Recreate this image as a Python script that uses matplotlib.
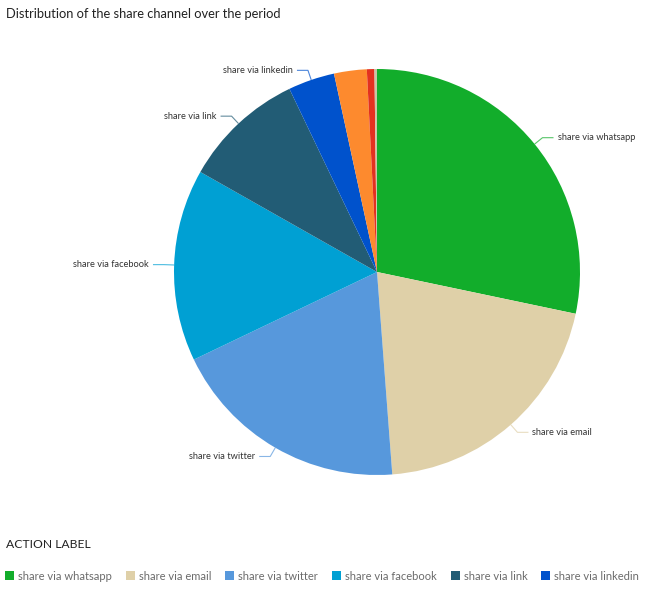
import numpy as np
import matplotlib.pyplot as plt
from matplotlib.patches import Patch

plt.rcParams["font.family"] = ["Lato", "DejaVu Sans"]

# share of each channel over the period (percent)
channels = [
    "share via whatsapp",
    "share via email",
    "share via twitter",
    "share via facebook",
    "share via link",
    "share via linkedin",
    "other 1",
    "other 2",
    "other 3",
]
shares = [28.3, 20.5, 19.1, 15.3, 9.7, 3.7, 2.6, 0.6, 0.2]
labelled = 6  # only the first six channels get a label and legend entry
colors = [
    "#12ad2b", "#dfd0a8", "#5798dc", "#00a0d3", "#225c75",
    "#0052cc", "#fd8a2e", "#e3311f", "#c9c4a6",
]

W, H = 662, 592
fig = plt.figure(figsize=(W / 100, H / 100), dpi=100)

cx, cy, r = 377, 272, 203
ax = fig.add_axes([(cx - r) / W, (H - cy - r) / H, 2 * r / W, 2 * r / H])
wedges, _ = ax.pie(shares, colors=colors, startangle=90, counterclock=False,
                   radius=1.0, wedgeprops=dict(linewidth=0))
ax.set_xlim(-1, 1)
ax.set_ylim(-1, 1)
ax.set_aspect("equal")
ax.axis("off")

px = 1.0 / r  # one pixel in data units
for w, name in zip(wedges[:labelled], channels[:labelled]):
    mid = np.deg2rad((w.theta1 + w.theta2) / 2)
    x0, y0 = np.cos(mid), np.sin(mid)
    x1, y1 = 1.05 * x0, 1.05 * y0
    side = 1 if x0 >= 0 else -1
    x2 = x1 + side * 11 * px
    ax.plot([x0, x1, x2], [y0, y1, y1], color=w.get_facecolor(), lw=0.8,
            alpha=0.7, clip_on=False, solid_capstyle="butt")
    ax.text(x2 + side * 4 * px, y1, name, fontsize=6.7, color="#333333",
            ha="left" if side > 0 else "right", va="center")

fig.text(6 / W, 1 - 14 / H, "Distribution of the share channel over the period",
         fontsize=9.3, color="#222222", ha="left", va="center")
fig.text(6 / W, 1 - 545 / H, "ACTION LABEL", fontsize=8.7, color="#222222",
         ha="left", va="center")

handles = [Patch(facecolor=c, edgecolor="none") for c in colors[:labelled]]
leg = fig.legend(handles, channels[:labelled], loc="center left",
                 bbox_to_anchor=(2 / W, 1 - 576 / H), ncol=labelled, frameon=False,
                 fontsize=8, handlelength=0.8, handleheight=0.8,
                 handletextpad=0.36, columnspacing=1.26, borderaxespad=0,
                 borderpad=0.3)
for t in leg.get_texts():
    t.set_color("#6b6b6b")

fig.savefig("out.png", dpi=100)
